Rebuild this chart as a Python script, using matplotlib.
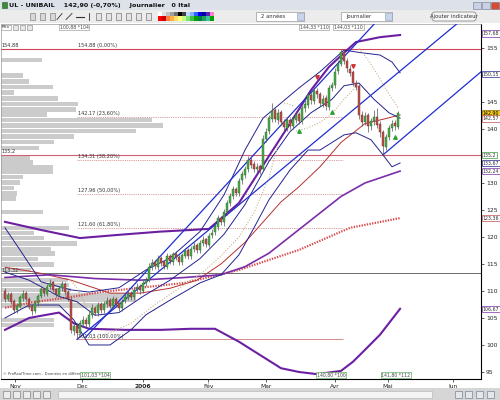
import matplotlib.pyplot as plt
from matplotlib.patches import Rectangle, FancyBboxPatch
from matplotlib.lines import Line2D

# daily bars, index 0 = first session of Nov 2005
opens = [110.0, 108.6, 109.4, 108.1, 106.4, 107.1, 108.7, 109.6, 108.5, 107.2,
         106.3, 107.7, 109.1, 110.4, 109.5, 110.7, 111.6, 110.3, 109.3, 110.5,
         111.3, 109.9, 108.4, 102.6, 103.6, 102.3, 103.8, 104.7, 103.9, 105.5,
         106.9, 105.9, 107.5, 106.4, 107.5, 108.3, 107.2, 108.6, 107.7, 106.8,
         108.1, 108.7, 109.6, 108.8, 110.3, 110.9, 110.0, 111.5, 112.1, 114.4,
         115.3, 114.5, 116.1, 115.3, 114.5, 116.5, 115.4, 116.9, 116.3, 115.3,
         116.5, 117.5, 116.4, 117.7, 118.5, 117.5, 118.9, 119.6, 118.6, 120.3,
         120.9, 121.9, 123.6, 122.7, 124.7, 126.2, 127.6, 128.9, 128.1, 130.5,
         131.5, 132.6, 134.3, 133.5, 132.5, 133.1, 132.6, 138.1, 139.6, 141.9,
         143.5, 141.7, 143.1, 141.3, 140.2, 141.7, 140.5, 141.7, 142.7, 141.4,
         143.9, 144.5, 146.3, 145.2, 147.1, 146.5, 144.7, 145.7, 144.1, 147.6,
         148.1, 150.7, 152.1, 154.3, 152.6, 151.1, 150.5, 148.5, 147.9, 142.6,
         141.2, 142.5, 140.5, 141.4, 142.3, 140.9, 139.5, 136.7, 138.5, 140.1,
         141.1, 140.4]
highs = [110.6, 109.8, 109.9, 108.5, 107.8, 109.3, 110.1, 110.0, 108.9, 107.6,
         108.3, 109.5, 110.9, 110.8, 111.3, 112.2, 111.9, 110.6, 111.0, 111.8,
         111.7, 110.2, 108.9, 104.4, 104.1, 104.7, 105.3, 105.1, 106.2, 107.5,
         107.3, 108.0, 107.9, 108.1, 108.8, 108.7, 109.1, 108.9, 108.0, 108.6,
         109.4, 110.1, 110.0, 110.7, 111.4, 111.3, 112.0, 112.6, 115.1, 115.9,
         115.8, 116.6, 116.5, 115.8, 117.0, 116.9, 117.3, 117.4, 116.6, 117.1,
         118.0, 117.9, 118.4, 119.0, 118.9, 119.4, 120.1, 119.9, 120.7, 121.4,
         122.6, 124.1, 123.9, 125.2, 126.9, 128.1, 129.4, 129.3, 131.0, 132.3,
         133.1, 135.0, 134.9, 134.0, 133.7, 133.6, 138.8, 140.2, 142.6, 144.8,
         143.9, 143.7, 143.6, 141.8, 142.2, 142.1, 142.4, 143.3, 143.2, 144.4,
         145.3, 146.9, 146.8, 147.7, 147.6, 146.9, 146.3, 146.2, 148.1, 148.7,
         151.3, 152.7, 154.88, 154.6, 153.1, 151.8, 150.9, 149.0, 148.3, 143.4,
         143.1, 143.0, 142.1, 143.6, 143.8, 141.4, 139.9, 139.1, 140.8, 141.6,
         141.7, 143.3]
lows = [107.9, 108.2, 107.6, 105.9, 106.0, 106.8, 108.2, 108.2, 106.6, 105.6,
        105.9, 107.3, 108.7, 109.1, 109.1, 110.3, 109.8, 108.9, 108.9, 110.0,
        109.3, 108.1, 102.2, 101.9, 101.03, 101.8, 103.3, 103.2, 103.4, 105.0,
        105.5, 105.4, 106.0, 105.9, 107.0, 106.8, 106.7, 107.1, 106.2, 106.3,
        107.7, 108.3, 108.4, 108.3, 109.9, 109.5, 109.6, 111.0, 111.7, 113.9,
        114.0, 113.9, 114.7, 114.0, 114.1, 115.0, 114.9, 115.8, 114.8, 114.9,
        116.1, 116.0, 115.9, 117.2, 117.0, 117.1, 118.3, 118.1, 118.1, 119.9,
        120.4, 121.3, 122.2, 122.1, 124.1, 125.7, 127.0, 127.6, 127.6, 129.9,
        130.9, 132.0, 132.8, 132.0, 131.8, 131.6, 132.2, 137.5, 139.0, 141.3,
        141.2, 141.0, 140.7, 139.6, 139.7, 140.0, 140.0, 141.1, 140.9, 141.0,
        143.2, 143.9, 144.6, 144.7, 145.8, 144.2, 144.1, 143.5, 143.6, 147.0,
        147.5, 150.1, 151.6, 152.0, 150.6, 149.8, 148.0, 147.2, 141.9, 140.6,
        140.8, 139.4, 139.9, 140.7, 140.1, 138.6, 135.2, 136.1, 137.9, 139.6,
        139.8, 140.0]
closes = [108.5, 109.2, 108.0, 106.5, 107.2, 108.8, 109.5, 108.6, 107.0, 106.2,
          107.8, 109.0, 110.3, 109.6, 110.8, 111.5, 110.2, 109.4, 110.6, 111.2,
          109.8, 108.6, 102.8, 103.5, 102.2, 104.0, 104.6, 103.8, 105.6, 106.8,
          106.0, 107.4, 106.5, 107.6, 108.2, 107.3, 108.5, 107.6, 106.9, 108.0,
          108.8, 109.5, 108.9, 110.2, 110.8, 110.1, 111.4, 112.0, 114.5, 115.2,
          114.6, 116.0, 115.2, 114.6, 116.4, 115.5, 116.8, 116.2, 115.4, 116.6,
          117.4, 116.5, 117.8, 118.4, 117.6, 118.8, 119.5, 118.7, 120.2, 120.8,
          122.0, 123.5, 122.8, 124.6, 126.3, 127.5, 128.8, 128.2, 130.4, 131.6,
          132.5, 134.2, 133.4, 132.6, 133.0, 132.4, 138.2, 139.5, 142.0, 143.4,
          141.8, 143.0, 141.2, 140.3, 141.6, 140.6, 141.8, 142.6, 141.5, 143.8,
          144.6, 146.2, 145.3, 147.0, 146.4, 144.8, 145.6, 144.2, 147.5, 148.2,
          150.6, 152.0, 154.2, 152.5, 151.2, 150.4, 148.6, 147.8, 142.5, 141.3,
          142.4, 140.6, 141.5, 142.2, 140.8, 139.4, 136.8, 138.6, 140.2, 141.0,
          140.5, 142.9]

month_pos = [3.3, 25.7, 46, 67.7, 87, 110, 127.7, 149.3]
month_lbl = ['Nov', 'Dec', '2006', 'Fév', 'Mar', 'Avr', 'Mai', 'Jun']
price_ticks = list(range(95, 160, 5))
price_lbl = ['' if p in (135, 150) else str(p) for p in price_ticks]

# short Bollinger (blue)
bb_up_x = [0, 5, 12, 22, 28, 38, 47, 55, 65, 73, 80, 86, 92, 98, 105, 113, 119, 125, 129, 131.7]
bb_up = [121.7, 117.6, 111.7, 110.2, 109.8, 110.6, 113.9, 116.1, 121.0, 127.8,
         136.1, 142.0, 144.8, 147.6, 150.6, 154.6, 154.1, 153.7, 152.4, 150.4]
bb_mid_x = [0, 8, 18, 24, 30, 38, 46, 55, 65, 73, 80, 88, 95, 102, 109, 113, 118, 123, 128, 131.7]
bb_mid = [113.5, 112.0, 109.0, 108.0, 105.5, 106.0, 109.0, 112.0, 116.0, 120.5,
          126.0, 134.0, 139.5, 143.0, 145.5, 148.0, 148.5, 145.5, 143.0, 142.0]
bb_lo_x = [0, 8, 18, 23, 28, 35, 42, 47, 55, 65, 72, 78, 83, 88, 95, 101, 105, 113, 117, 122, 126, 129, 131.7]
bb_lo = [105.0, 107.4, 107.4, 104.6, 100.0, 100.0, 102.8, 105.6, 108.3, 111.5, 113.0, 116.7,
         121.7, 126.9, 132.4, 136.1, 136.1, 138.9, 139.3, 138.0, 135.2, 133.0, 133.7]

# long Bollinger (purple)
pu_up_x = [0, 12, 25, 38, 52, 62, 68, 78, 88, 95, 102, 108, 114, 117, 125, 131.7]
pu_up = [122.8, 121.3, 119.8, 120.4, 121.0, 121.3, 121.5, 126.3, 135.0, 141.0,
         147.2, 151.5, 154.6, 156.1, 157.0, 157.4]
pu_mid_x = [0, 15, 30, 45, 60, 72, 80, 88, 96, 104, 112, 120, 131.7]
pu_mid = [112.5, 113.0, 112.3, 112.0, 112.5, 113.0, 114.5, 117.0, 120.5, 124.0, 127.5, 130.0, 132.2]
pu_lo_x = [0, 8, 18, 23, 28, 40, 52, 62, 70, 78, 84, 92, 98, 104, 112, 116, 120, 125, 131.7]
pu_lo = [102.8, 105.0, 106.0, 104.0, 103.0, 102.8, 102.8, 103.0, 103.0, 100.6, 98.5,
         95.7, 95.0, 94.6, 95.2, 96.9, 99.1, 101.9, 106.7]

# moving averages
ma_x = [0, 10, 22, 35, 45, 55, 64, 72, 80, 92, 98, 105, 112, 120, 126, 131.7]
ma = [114.4, 113.5, 112.0, 109.6, 109.6, 110.5, 112.0, 115.0, 119.0, 126.5, 129.3,
      133.0, 137.5, 141.0, 141.8, 142.6]
ma_long_x = [0, 9, 21, 32, 45, 60, 78, 98, 115, 131.7]
ma_long = [106.9, 107.9, 108.8, 109.8, 110.6, 111.5, 113.9, 117.6, 121.7, 123.5]

# parabolic SAR segments
sar_segs = [
    ([22, 24, 26, 27], [111.9, 110.5, 108.4, 107.2]),
    ([29, 35, 42, 50, 58, 66, 72, 78, 83, 88, 91],
     [101.2, 102.3, 104.0, 107.5, 110.5, 113.5, 116.5, 120.0, 124.5, 131.0, 137.0]),
    ([93, 94, 95, 96], [144.8, 144.7, 144.5, 144.3]),
    ([97, 101, 105, 109, 113, 117], [139.6, 140.2, 141.2, 142.8, 145.5, 147.8]),
    ([118, 121, 124, 127, 129, 131], [154.9, 152.8, 150.2, 147.4, 145.6, 144.0]),
]

# trend channel
chan_a_x = [24, 158.7]
chan_a = [101.03, 163.2]
chan_c_x = [27, 124]
chan_c = [101.5, 160.0]
chan_b_x = [126, 158.7]
chan_b = [135.2, 150.6]

# Fibonacci retracement 101.03 -> 154.88
fib_lvl = [154.88, 142.17, 134.31, 127.96, 121.60, 101.03]
fib_pct = ['0,00%', '23,60%', '38,20%', '50,00%', '61,80%', '100,00%']
fib_from, fib_to = 24, 112.7

# volume at price (relative)
vp_price = [152.8, 149.9, 148.8, 147.8, 146.8, 145.6, 144.6, 143.6, 142.7, 141.7,
            140.6, 139.6, 138.6, 137.6, 136.5, 134.7, 133.8, 132.9, 132.0, 131.1,
            130.1, 129.1, 128.1, 127.1, 124.6, 121.7, 120.7, 119.8, 118.8, 117.8,
            116.9, 115.9, 114.9, 113.9, 112.0, 111.1, 110.2, 109.2, 108.3, 107.3,
            104.6, 103.7]
vp_vol = [41, 22, 28, 52, 13, 57, 77, 75, 46, 151, 162, 135, 73, 53, 38, 29, 32, 52,
          52, 22, 19, 13, 16, 15, 42, 68, 33, 43, 76, 50, 54, 37, 53, 30, 67, 68, 70,
          135, 135, 120, 53, 53]

up_x, up_y = [98, 109, 130], [139.6, 143.1, 138.5]
dn_x, dn_y = [104, 116], [149.6, 151.6]

fig = plt.figure(figsize=(5, 4), dpi=100)
fig.patch.set_facecolor('white')


def box(x0, y0, x1, y1, **kw):
    fig.add_artist(Rectangle((x0 / 500, 1 - y1 / 400), (x1 - x0) / 500, (y1 - y0) / 400,
                             transform=fig.transFigure, **kw))


def ftext(x, y, s, **kw):
    fig.text(x / 500, 1 - y / 400, s, **kw)


def fline(xs, ys, **kw):
    fig.add_artist(Line2D([x / 500 for x in xs], [1 - y / 400 for y in ys],
                          transform=fig.transFigure, **kw))


# ---- chart ----
ax = fig.add_axes([0.002, 1 - 379 / 400, 0.96, (379 - 24) / 400])
x0, x1 = -1.33, 158.67
ax.set_xlim(x0, x1)
ax.set_ylim(93.7, 159.44)

ax.barh(vp_price, [v / 3 for v in vp_vol], left=x0, height=0.85, color='#cbcbcb', zorder=1)

ax.axhline(154.88, color='#d04458', lw=0.8, zorder=2)
ax.axhline(135.2, color='#d06070', lw=0.8, zorder=2)
ax.axhline(113.32, color='#6a6a6a', lw=0.7, zorder=2)
for lv, pc in zip(fib_lvl, fib_pct):
    if lv != 154.88:
        ls = '-' if lv == 101.03 else (0, (1, 1.2))
        ax.hlines(lv, fib_from, fib_to, color='#d07878', lw=0.6, linestyle=ls, zorder=2)
    ax.text(fib_from + 0.3, lv + 0.35, f"{lv:.2f}".replace('.', ',') + f" ({pc})",
            fontsize=3.6, color='#333333', zorder=6)
ax.text(x0 + 0.3, 155.25, '154,88', fontsize=3.6, color='#333333', zorder=6)
ax.text(x0 + 0.3, 135.55, '135,2', fontsize=3.6, color='#333333', zorder=6)
ax.text(x0 + 0.3, 113.65, '113,32', fontsize=3.6, color='#333333', zorder=6)

ax.plot(ma_long_x, ma_long, color='#d84848', lw=1.6, linestyle=(0, (0.6, 0.6)), zorder=3)
ax.plot(ma_x, ma, color='#b83030', lw=0.7, zorder=3)
ax.plot(pu_up_x, pu_up, color='#6c1fa0', lw=1.5, zorder=3)
ax.plot(pu_lo_x, pu_lo, color='#6c1fa0', lw=1.5, zorder=3)
ax.plot(pu_mid_x, pu_mid, color='#7a2ea8', lw=1.2, zorder=3)
for xs, ys in [(bb_up_x, bb_up), (bb_mid_x, bb_mid), (bb_lo_x, bb_lo)]:
    ax.plot(xs, ys, color='#23238f', lw=0.7, zorder=3)
for xs, ys in [(chan_a_x, chan_a), (chan_b_x, chan_b), (chan_c_x, chan_c)]:
    ax.plot(xs, ys, color='#1f2fd0', lw=0.9, zorder=3)
for xs, ys in sar_segs:
    ax.plot(xs, ys, color='#c8b48c', lw=0.8, linestyle=(0, (1, 1.5)), zorder=3)

idx = list(range(len(closes)))
rise = [c >= o for o, c in zip(opens, closes)]
ax.vlines(idx, lows, highs, color='#555555', lw=0.5, zorder=4)
ax.bar(idx, [c - o for o, c in zip(opens, closes)], bottom=opens, width=0.75,
       color=['#4aa84a' if r else '#b8504a' for r in rise],
       edgecolor=['#2a6a2a' if r else '#7a2a2a' for r in rise], linewidth=0.3, zorder=5)
ax.scatter(up_x, up_y, marker='^', s=6, color='#2fa02f', zorder=6)
ax.scatter(dn_x, dn_y, marker='v', s=6, color='#d03030', zorder=6)

tag = dict(boxstyle='square,pad=0.15', fc='white', lw=0.4)
for x, s in [(23, '100,88 *104'), (103, '144,33 *110'), (114.5, '144,03 *110')]:
    ax.text(x, 158.85, s, fontsize=3.3, ha='center', va='center', color='#444444',
            bbox=dict(tag, ec='#8a8a8a'), zorder=7)
for x, s in [(30.0, '101,03 *104'), (108.7, '140,80 *100'), (130.3, '141,80 *112')]:
    ax.text(x, 94.45, s, fontsize=3.3, ha='center', va='center', color='#444444',
            bbox=dict(tag, ec='#3c9a3c'), zorder=7)
ax.text(0.004, 0.012, '© ProRealTime.com - Données en différé', transform=ax.transAxes,
        fontsize=2.7, color='#444444', zorder=6)

ax.yaxis.tick_right()
ax.set_yticks(price_ticks)
ax.set_yticklabels(price_lbl)
ax.set_xticks(month_pos)
ax.set_xticklabels(month_lbl)
ax.get_xticklabels()[2].set_fontweight('bold')
ax.tick_params(axis='both', labelsize=4.3, length=2, width=0.5, pad=1.5, colors='#222222')
for side in ['top', 'left']:
    ax.spines[side].set_color('#9a9a9a')
    ax.spines[side].set_linewidth(0.5)
for side in ['right', 'bottom']:
    ax.spines[side].set_color('black')
    ax.spines[side].set_linewidth(0.8)

rtag = [(157.68, '157,68', 'white', '#7a2ea8'), (150.15, '150,15', 'white', '#23238f'),
        (142.90, '142,90', '#f2cc18', '#8a6a00'), (141.95, '142,57', 'white', '#c05050'),
        (135.2, '135,2', 'white', '#3c9a3c'), (133.67, '133,67', 'white', '#23238f'),
        (132.24, '132,24', 'white', '#7a2ea8'), (123.5, '123,36', 'white', '#c05050'),
        (106.67, '106,67', 'white', '#7a2ea8')]
for v, s, fc, ec in rtag:
    ax.text(1.004, v, s, transform=ax.get_yaxis_transform(), fontsize=3.4, va='center',
            ha='left', color='#333333' if fc == 'white' else 'black',
            bbox=dict(boxstyle='square,pad=0.12', fc=fc, ec=ec, lw=0.5), clip_on=False, zorder=10)

# ---- window chrome ----
box(0, 0, 500, 10, fc='#dde2ea', ec='none')
box(1.5, 2, 6.5, 8, fc='#3a8a3a', ec='#1f5f1f', lw=0.4)
ftext(9, 5.2, 'UL - UNIBAIL    142,90 (-0,70%)    Journalier   0 Ital', fontsize=4.6,
      fontweight='bold', va='center', color='#111111')
for bx, c in [(473, '#c9d1e3'), (482, '#c9d1e3'), (491, '#d94a32')]:
    box(bx, 1.5, bx + 8, 8.5, fc=c, ec='#6a7890', lw=0.4)
box(0, 10, 500, 23, fc='#ececec', ec='none')
for tx in [30, 40, 50]:
    box(tx, 13.5, tx + 5, 19.5, fc='#d8d8d8', ec='#707070', lw=0.4)
fline([57, 62], [19.5, 13.5], color='#303030', lw=0.6)
fline([66, 72], [19.5, 13.5], color='#303030', lw=0.6)
fline([76, 84], [16.5, 16.5], color='#303030', lw=0.8)
fline([89, 89], [13, 20], color='#303030', lw=0.6)
for tx in [96, 106, 116, 126, 136, 146]:
    box(tx, 13.5, tx + 5, 19.5, fc='#e4e4e4', ec='#606060', lw=0.4)
pal1 = ['#ffffff', '#e0e0e0', '#c0c0c0', '#a0a0a0', '#707070', '#000000', '#404040',
        '#c0d8ff', '#80b0ff', '#3060ff', '#0000e0', '#0000a0', '#6020c0', '#ff80c0']
pal2 = ['#ff0000', '#d00000', '#ff8040', '#ffb040', '#ffe060', '#ffff80', '#c0ff80',
        '#80e080', '#40c040', '#00a000', '#008040', '#20a060', '#40c0a0', '#00a000']
for k, (c1, c2) in enumerate(zip(pal1, pal2)):
    box(158 + 4 * k, 12.5, 162 + 4 * k, 16.5, fc=c1, ec='none')
    box(158 + 4 * k, 16.5, 162 + 4 * k, 20.5, fc=c2, ec='none')
for bx0, bx1, s in [(256, 304, '2 années'), (341, 392, 'Journalier')]:
    box(bx0, 12.5, bx1, 20.5, fc='white', ec='#9a9a9a', lw=0.5)
    box(bx1 - 7, 13, bx1 - 0.5, 20, fc='#c8d4ea', ec='#8a9ab8', lw=0.4)
    ftext(bx0 + 5, 16.7, s, fontsize=3.8, va='center', color='#333333')
fig.add_artist(FancyBboxPatch((432 / 500, 1 - 21 / 400), 44 / 500, 9 / 400,
                              boxstyle='round,pad=0,rounding_size=0.006',
                              transform=fig.transFigure, fc='#f6f6f6', ec='#7a7a7a', lw=0.5))
ftext(454, 16.6, 'Ajouter indicateur', fontsize=3.8, ha='center', va='center', color='#333333')
box(0, 22.6, 500, 23.4, fc='#a8a8a8', ec='none')
box(1, 24.5, 11, 29.5, fc='white', ec='#8a8a8a', lw=0.4)
ftext(2, 27.2, 'Prix', fontsize=3.2, va='center', color='#333333')
for tx in [13, 20, 27]:
    box(tx, 24.5, tx + 5, 29.5, fc='#e8e8e8', ec='#808080', lw=0.4)

box(0, 388, 500, 400, fc='#d6d6d6', ec='none')
for tx in [3, 13, 23, 33, 43]:
    box(tx, 390.5, tx + 7, 397.5, fc='#ececec', ec='#707070', lw=0.4)
box(58, 390.5, 432, 397.5, fc='#f4f4f4', ec='#b0b0b0', lw=0.4)
for tx in [455, 465, 476, 487]:
    box(tx, 390.5, tx + 7, 397.5, fc='#e4e8ee', ec='#607080', lw=0.4)

fig.savefig('out.png', dpi=100)
